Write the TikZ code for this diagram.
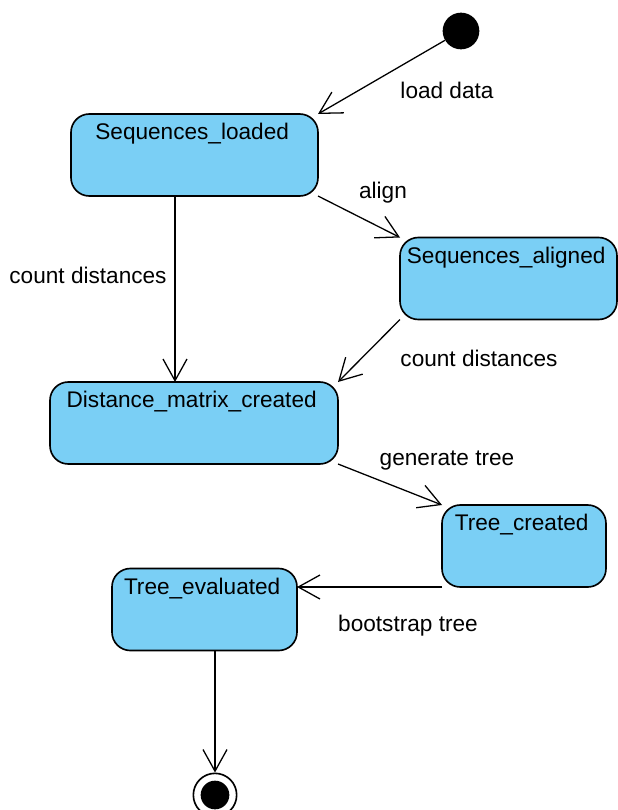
\documentclass[tikz,border=0pt]{standalone}
\usepackage{fontspec}
\setmainfont{Liberation Sans}
\usetikzlibrary{arrows.meta}
\definecolor{statefill}{RGB}{122,207,245}
\begin{document}
\begin{tikzpicture}[x=0.03cm,y=-0.03cm,
  state/.style = {rectangle,rounded corners=0.55cm,draw=black,line width=1.4pt,fill=statefill,minimum height=2.46cm,inner sep=0pt,outer sep=0mm},
  statetext/.style = {anchor=north,font=\fontsize{19.3}{22}\selectfont,inner sep=0pt,yshift=-0.27cm,xshift=-0.07cm},
  trans/.style = {draw,line width=1.1pt,-{Straight Barb[length=0.65cm,width=0.72cm,line width=1.1pt]}},
  lbl/.style = {font=\fontsize{19.3}{22}\selectfont,inner sep=0pt}]
\useasboundingbox (0,0) rectangle (618,810);
\node[circle,fill=black,minimum size=1.1cm,inner sep=0pt] (init) at (461,31) {};
\foreach \n/\x/\y/\w/\t in {sl/194.5/155/247/Sequences\_loaded,
                            sa/508.5/278.5/217/Sequences\_aligned,
                            dm/194/423/288/Distance\_matrix\_created,
                            tc/524/546/164/Tree\_created,
                            te/204.5/609.5/185/Tree\_evaluated}
    \node[state,minimum width={\w*0.03cm},label={[statetext]north:\t}] (\n) at (\x,\y) {};
\node[circle,draw=black,line width=1.4pt,minimum size=1.3cm,inner sep=0pt,
      path picture={\fill[black] (path picture bounding box.center) circle (0.43cm);}] (fin) at (215,795) {};
\draw[trans] (init) -- (sl.north east);
\draw[trans] (sl.south east) -- (sa.north west);
\draw[trans] ([xshift=-0.585cm]sl.south) -- ([xshift=-0.585cm]sl.south |- dm.north);
\draw[trans] (sa.south west) -- (dm.north east);
\draw[trans] (dm.south east) -- (tc.north west);
\draw[trans] (tc.south west) -- (tc.south west -| te.east);
\draw[trans] (fin |- te.south) -- (fin);
\node[lbl] (l1) at (447,90) {load data};
\node[lbl] (l2) at (383,193) {align};
\node[lbl] (l3) at (88,275) {count distances};
\node[lbl] (l4) at (479,358) {count distances};
\node[lbl] (l5) at (447,461) {generate tree};
\node[lbl] (l6) at (408,626) {bootstrap tree};
\end{tikzpicture}
\end{document}
